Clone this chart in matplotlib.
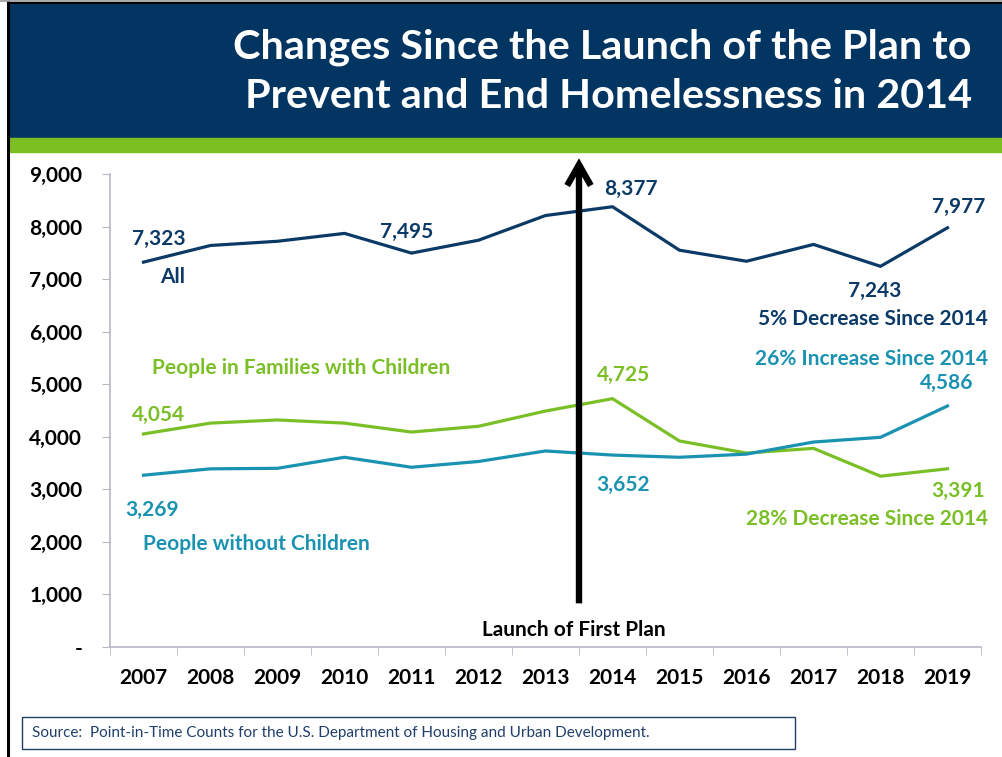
import matplotlib.pyplot as plt
from matplotlib.patches import Rectangle
from matplotlib.lines import Line2D
import numpy as np

# data
years = ["2007", "2008", "2009", "2010", "2011", "2012", "2013",
         "2014", "2015", "2016", "2017", "2018", "2019"]
all_people = [7323, 7640, 7720, 7870, 7495, 7740, 8210, 8377, 7550, 7340, 7660, 7243, 7977]
families = [4054, 4260, 4320, 4260, 4090, 4200, 4490, 4725, 3920, 3690, 3780, 3250, 3391]
no_children = [3269, 3390, 3400, 3610, 3420, 3530, 3730, 3652, 3610, 3670, 3900, 3990, 4586]
ytick_vals = [0, 1000, 2000, 3000, 4000, 5000, 6000, 7000, 8000, 9000]
ytick_labels = ["-", "1,000", "2,000", "3,000", "4,000", "5,000", "6,000",
                "7,000", "8,000", "9,000"]

NAVY = "#0b3a66"
HEAD = "#023561"
GREEN = "#7bbf27"
TEAL = "#1a92b1"
FS = 15

plt.rcParams["font.family"] = ["Lato", "DejaVu Sans"]

fig = plt.figure(figsize=(10.03, 7.57), dpi=100)

# ---- header band and frame ----
W, H = 1003, 757
def fx(px):
    return px / W
def fy(py):
    return 1 - py / H

fig.patches.append(Rectangle((fx(10), fy(138)), 1, (138 - 4) / H,
                             transform=fig.transFigure, color=HEAD, zorder=0))
fig.patches.append(Rectangle((fx(10), fy(152)), 1, (152 - 138) / H,
                             transform=fig.transFigure, color="#7bbf22", zorder=0))
fig.lines.append(Line2D([fx(8.5), fx(8.5)], [0, fy(2)], transform=fig.transFigure,
                        color="black", lw=2.2))
fig.lines.append(Line2D([fx(8), 1], [fy(3), fy(3)], transform=fig.transFigure,
                        color="black", lw=1.5))
fig.lines.append(Line2D([0, 1], [fy(0.8), fy(0.8)], transform=fig.transFigure,
                        color="#999999", lw=1.2))

fig.text(fx(972), fy(47), "Changes Since the Launch of the Plan to", color="white",
         fontsize=29.8, fontweight="bold", ha="right", va="center")
fig.text(fx(972), fy(97), "Prevent and End Homelessness in 2014", color="white",
         fontsize=29.8, fontweight="bold", ha="right", va="center")

# ---- chart ----
ax = fig.add_axes([fx(110), fy(647), fx(981) - fx(110), (647 - 174) / H])
x = np.arange(len(years))
ax.plot(x, all_people, color=NAVY, lw=2.3)
ax.plot(x, families, color=GREEN, lw=2.3)
ax.plot(x, no_children, color=TEAL, lw=2.3)

ax.set_xlim(-0.5, len(years) - 0.5)
ax.set_ylim(0, 9000)
ax.set_yticks(ytick_vals)
ax.set_yticklabels(ytick_labels)
ax.set_xticks(x)
ax.set_xticklabels(years)
ax.set_xticks(np.arange(-0.5, len(years)), minor=True)
ax.tick_params(axis="x", which="major", length=0, pad=15, labelsize=FS)
ax.tick_params(axis="x", which="minor", length=6, color="#b8b8c4", direction="out")
ax.tick_params(axis="y", length=6, color="#b8b8c4", pad=14, labelsize=FS)
for lab in ax.get_xticklabels() + ax.get_yticklabels():
    lab.set_fontweight("bold")
for s in ["top", "right"]:
    ax.spines[s].set_visible(False)
for s in ["left", "bottom"]:
    ax.spines[s].set_color("#b8b8c4")
    ax.spines[s].set_linewidth(1.2)

# launch arrow
ax.annotate("", xy=(6.5, 9300), xytext=(6.5, 830), annotation_clip=False,
            arrowprops=dict(arrowstyle="->,head_length=1.5,head_width=0.85",
                            color="black", lw=4.6, shrinkA=0, shrinkB=0,
                            capstyle="butt", joinstyle="miter"))
ax.text(6.43, 323, "Launch of First Plan", ha="center", va="center",
        fontsize=FS, fontweight="bold", color="black")

lab = dict(fontsize=FS, fontweight="bold", ha="center", va="center")
rlab = dict(fontsize=FS, fontweight="bold", ha="right", va="center")
ax.text(0.23, 7757, "7,323", color=NAVY, **lab)
ax.text(0.44, 7034, "All", color=NAVY, **lab)
ax.text(3.93, 7890, "7,495", color=NAVY, **lab)
ax.text(7.28, 8707, "8,377", color=NAVY, **lab)
ax.text(12.16, 8370, "7,977", color=NAVY, **lab)
ax.text(10.92, 6770, "7,243", color=NAVY, **lab)
ax.text(12.6, 6250, "5% Decrease Since 2014", color=NAVY, **rlab)

ax.text(2.35, 5304, "People in Families with Children", color=GREEN, **lab)
ax.text(0.23, 4410, "4,054", color=GREEN, **lab)
ax.text(7.16, 5170, "4,725", color=GREEN, **lab)
ax.text(12.16, 2970, "3,391", color=GREEN, **lab)
ax.text(12.6, 2430, "28% Decrease Since 2014", color=GREEN, **rlab)

ax.text(12.6, 5475, "26% Increase Since 2014", color=TEAL, **rlab)
ax.text(11.99, 5020, "4,586", color=TEAL, **lab)
ax.text(7.16, 3080, "3,652", color=TEAL, **lab)
ax.text(0.13, 2605, "3,269", color=TEAL, **lab)
ax.text(1.69, 1958, "People without Children", color=TEAL, **lab)

# source box
fig.patches.append(Rectangle((fx(22), fy(749)), (795 - 22) / W, (749 - 717) / H,
                             transform=fig.transFigure, facecolor="white",
                             edgecolor="#1f3f6a", lw=1))
fig.text(fx(32), fy(733), "Source:  Point-in-Time Counts for the U.S. Department of Housing and Urban Development.",
         color="#1f3f6a", fontsize=11, ha="left", va="center")

fig.savefig("out.png", dpi=100)
